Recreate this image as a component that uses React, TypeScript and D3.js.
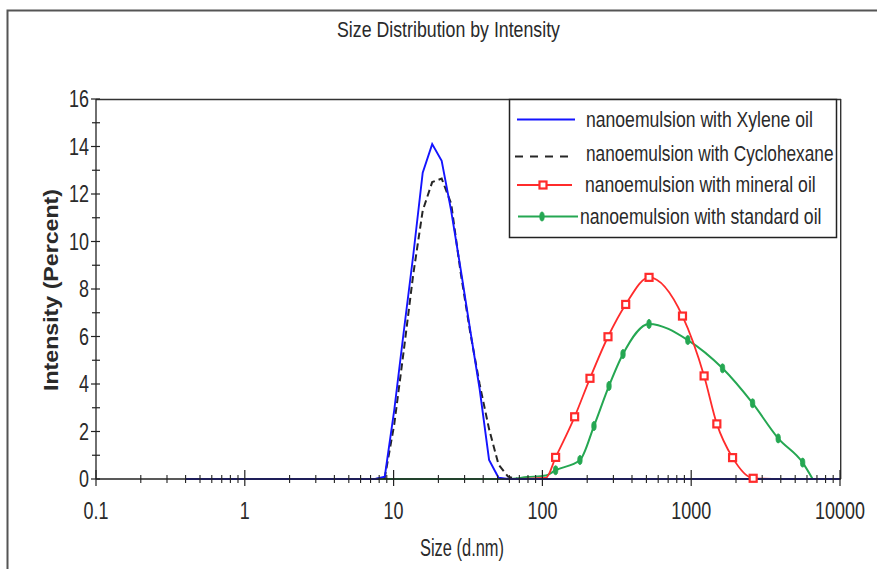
import React from "react";
import * as d3 from "d3";

// ---- data ----
const sizeBins = [0.4, 0.4632, 0.5365, 0.6213, 0.7195, 0.8332, 0.9649, 1.117, 1.294, 1.499, 1.736, 2.01, 2.328, 2.696, 3.122, 3.615, 4.187, 4.849, 5.615, 6.503, 7.531, 8.721, 10.1, 11.7, 13.54, 15.69, 18.17, 21.04, 24.36, 28.21, 32.67, 37.84, 43.82, 50.75, 58.77, 68.06, 78.82, 91.28, 105.7, 122.4, 141.8, 164.2, 190.1, 220.2, 255.0, 295.3, 342.0, 396.1, 458.7, 531.2, 615.1, 712.4, 825.0, 955.4, 1106, 1281, 1484, 1718, 1990, 2305, 2669, 3091, 3580, 4145, 4801, 5560, 6439, 7456, 8635, 10000];

const xyleneValues = [0, 0, 0, 0, 0, 0, 0, 0, 0, 0, 0, 0, 0, 0, 0, 0, 0, 0, 0, 0, 0, 0.1, 2.9, 6.2, 9.4, 12.9, 14.1, 13.4, 11.3, 8.85, 6.3, 3.8, 0.8, 0.05, 0, 0, 0, 0, 0, 0, 0, 0, 0, 0, 0, 0, 0, 0, 0, 0, 0, 0, 0, 0, 0, 0, 0, 0, 0, 0, 0, 0, 0, 0, 0, 0, 0, 0, 0, 0];

const cyclohexaneValues = [0, 0, 0, 0, 0, 0, 0, 0, 0, 0, 0, 0, 0, 0, 0, 0, 0, 0, 0, 0, 0, 0.05, 2.3, 5.4, 8.6, 11.3, 12.5, 12.65, 11.6, 8.7, 6.2, 4.0, 2.1, 0.6, 0.1, 0, 0, 0, 0, 0, 0, 0, 0, 0, 0, 0, 0, 0, 0, 0, 0, 0, 0, 0, 0, 0, 0, 0, 0, 0, 0, 0, 0, 0, 0, 0, 0, 0, 0, 0];

const mineralSizes = [58.77, 105.7, 122.7, 164.7, 208.8, 275.9, 362.9, 520.8, 873.9, 1221, 1487, 1897, 2609, 4145, 6439];
const mineralValues = [0, 0.05, 0.91, 2.62, 4.24, 5.99, 7.35, 8.49, 6.86, 4.34, 2.32, 0.9, 0.03, 0, 0];
const mineralMarkers = [0, 0, 1, 1, 1, 1, 1, 1, 1, 1, 1, 1, 1, 0, 0];

const standardSizes = [0.4, 58.77, 78.82, 105.7, 122.7, 178.8, 222.1, 280.3, 348.0, 520.8, 948.7, 1624, 2585, 3843, 5610, 6551];
const standardValues = [0, 0, 0.08, 0.15, 0.37, 0.8, 2.23, 3.92, 5.26, 6.53, 5.85, 4.66, 3.19, 1.71, 0.69, 0];
const standardMarkers = [0, 0, 0, 0, 1, 1, 1, 1, 1, 1, 1, 1, 1, 1, 1, 0];

const xTickValues = [0.1, 1, 10, 100, 1000, 10000];
const xTickLabels = ["0.1", "1", "10", "100", "1000", "10000"];
const yTickValues = [0, 2, 4, 6, 8, 10, 12, 14, 16];

const seriesNames = [
  "nanoemulsion with Xylene oil",
  "nanoemulsion with Cyclohexane",
  "nanoemulsion with mineral oil",
  "nanoemulsion with standard oil",
];

const FONT = "'Liberation Sans', Arial, sans-serif";
const BLUE = "#1414ff";
const BLACK = "#262626";
const RED = "#ff2b2b";
const GREEN = "#25a752";
const TEXT = "#2a2a2a";

export default function App() {
  const x = d3.scaleLog().domain([0.1, 10000]).range([96, 840]);
  const y = d3.scaleLinear().domain([0, 16]).range([479, 99]);

  const linear = d3
    .line<[number, number]>()
    .x((d) => x(d[0]))
    .y((d) => y(d[1]))
    .curve(d3.curveLinear);
  const smooth = d3
    .line<[number, number]>()
    .x((d) => x(d[0]))
    .y((d) => y(d[1]))
    .curve(d3.curveMonotoneX);

  const xylene = sizeBins.map((s, i) => [s, xyleneValues[i]] as [number, number]);
  const cyclo = sizeBins.map((s, i) => [s, cyclohexaneValues[i]] as [number, number]);
  const mineral = mineralSizes.map((s, i) => [s, mineralValues[i]] as [number, number]);
  const standard = standardSizes.map((s, i) => [s, standardValues[i]] as [number, number]);

  const minorX: number[] = [];
  [0.1, 1, 10, 100, 1000].forEach((dec) => {
    for (let k = 2; k <= 9; k++) minorX.push(dec * k);
  });
  const minorY = d3.range(1, 16, 2);

  const sx = 0.78;

  const redMarker = (cx: number, cy: number, key: string) => (
    <rect key={key} x={cx - 3.5} y={cy - 3.5} width={7} height={7} fill="#fff" stroke={RED} strokeWidth={2.2} />
  );
  const greenMarker = (cx: number, cy: number, key: string) => (
    <ellipse key={key} cx={cx} cy={cy} rx={2.2} ry={4.5} fill={GREEN} stroke={GREEN} strokeWidth={0.8} />
  );

  const legendRows = [
    { y: 119.5, ty: 127, tx: 586, sx: 0.8 },
    { y: 156.5, ty: 161, tx: 586, sx: 0.785 },
    { y: 185, ty: 192, tx: 585, sx: 0.8 },
    { y: 216.5, ty: 223.5, tx: 580, sx: 0.8 },
  ];

  return (
    <svg width={877} height={569} style={{ position: "absolute", left: 0, top: 0, background: "#fff" }} fontFamily={FONT}>
      <rect x={0} y={0} width={877} height={569} fill="#fff" />
      <path d="M7.5,575 V10.5 H885" fill="none" stroke="#555" strokeWidth={2} />

      <text x={337} y={37} fontSize={22} textLength={223} lengthAdjust="spacingAndGlyphs" fill={TEXT}>
        Size Distribution by Intensity
      </text>

      <line x1={96} x2={841} y1={99.5} y2={99.5} stroke="#333" strokeWidth={1.6} />
      <line x1={840.7} x2={840.7} y1={99} y2={479} stroke="#333" strokeWidth={1.4} />

      <path d={smooth(standard) || ""} fill="none" stroke={GREEN} strokeWidth={2} />
      <path d={smooth(mineral) || ""} fill="none" stroke={RED} strokeWidth={1.8} />
      <path d={linear(cyclo) || ""} fill="none" stroke={BLACK} strokeWidth={2} strokeDasharray="7 4" />
      <path d={linear(xylene) || ""} fill="none" stroke={BLUE} strokeWidth={1.9} />

      <line x1={96} x2={96} y1={99} y2={479} stroke="#222" strokeWidth={1.3} />
      <line x1={96} x2={841} y1={479} y2={479} stroke="#222" strokeWidth={1.3} />
      {yTickValues.map((v) => (
        <g key={"yt" + v}>
          <line x1={91} x2={100} y1={y(v)} y2={y(v)} stroke="#222" strokeWidth={1.2} />
          <text
            transform={`translate(89,${y(v) + 8}) scale(${sx},1)`}
            textAnchor="end"
            fontSize={23}
            fill={TEXT}
          >
            {v}
          </text>
        </g>
      ))}
      {minorY.map((v) => (
        <line key={"ym" + v} x1={92} x2={100} y1={y(v)} y2={y(v)} stroke="#222" strokeWidth={1.2} />
      ))}
      {xTickValues.map((v, i) => (
        <g key={"xt" + v}>
          <line x1={x(v)} x2={x(v)} y1={470} y2={486} stroke="#222" strokeWidth={1.2} />
          <text
            transform={`translate(${x(v)},519) scale(${sx},1)`}
            textAnchor="middle"
            fontSize={23}
            fill={TEXT}
          >
            {xTickLabels[i]}
          </text>
        </g>
      ))}
      {minorX.map((v) => (
        <line key={"xm" + v} x1={x(v)} x2={x(v)} y1={475} y2={483} stroke="#222" strokeWidth={1.1} />
      ))}

      {standard.map((d, i) => (standardMarkers[i] ? greenMarker(x(d[0]), y(d[1]), "gm" + i) : null))}
      {mineral.map((d, i) => (mineralMarkers[i] ? redMarker(x(d[0]), y(d[1]), "rm" + i) : null))}

      <text
        transform="translate(58,290) rotate(-90)"
        textAnchor="middle"
        fontSize={20}
        fontWeight="bold"
        fill={TEXT}
        textLength={202}
        lengthAdjust="spacingAndGlyphs"
      >
        Intensity (Percent)
      </text>
      <text x={420} y={556} fontSize={23} fill={TEXT} textLength={84} lengthAdjust="spacingAndGlyphs">
        Size (d.nm)
      </text>

      <rect x={509.5} y={99.5} width={327} height={138} fill="#fff" stroke="#222" strokeWidth={1.5} />
      <line x1={517} x2={575} y1={legendRows[0].y} y2={legendRows[0].y} stroke={BLUE} strokeWidth={1.8} />
      <line x1={515} x2={573} y1={legendRows[1].y} y2={legendRows[1].y} stroke={BLACK} strokeWidth={2} strokeDasharray="8 7" />
      <line x1={517} x2={572} y1={legendRows[2].y} y2={legendRows[2].y} stroke={RED} strokeWidth={1.8} />
      {redMarker(543, legendRows[2].y, "lr")}
      <line x1={518} x2={578} y1={legendRows[3].y} y2={legendRows[3].y} stroke={GREEN} strokeWidth={1.8} />
      {greenMarker(542, legendRows[3].y, "lg")}
      {seriesNames.map((n, i) => (
        <text
          key={n}
          transform={`translate(${legendRows[i].tx},${legendRows[i].ty}) scale(${legendRows[i].sx},1)`}
          fontSize={22}
          fill={TEXT}
        >
          {n}
        </text>
      ))}
    </svg>
  );
}
